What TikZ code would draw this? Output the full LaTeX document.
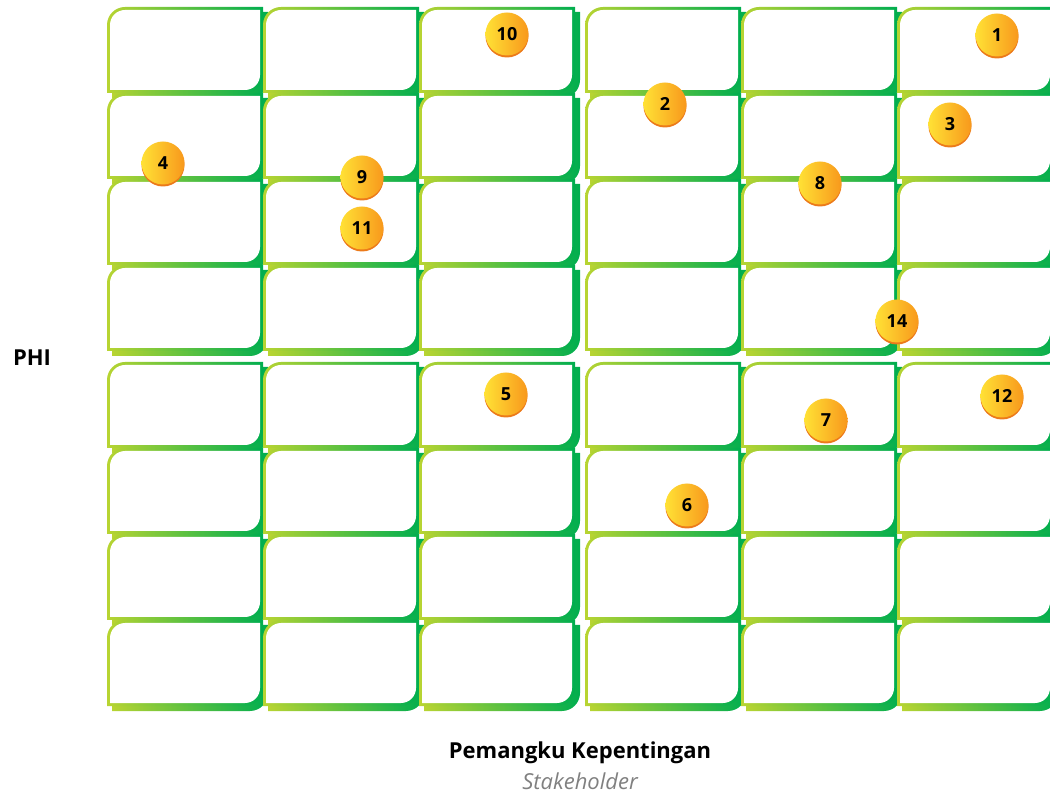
\documentclass[tikz,border=0pt]{standalone}
\usepackage{fontspec}
\setmainfont{Open Sans}
\usepackage{tikz}
\usetikzlibrary{shadows, positioning}
\definecolor{celllime}{HTML}{B8D432}
\definecolor{cellgreen}{HTML}{00AE4F}
\definecolor{dotyellow}{HTML}{FFE135}
\definecolor{dotorange}{HTML}{F8981C}
\definecolor{dotrim}{HTML}{EC7A1A}
\definecolor{subgray}{HTML}{808080}
\tikzset{
  cellshade/.style={left color=celllime, right color=cellgreen},
  dot/.style={circle, minimum size=43pt, inner sep=0pt,
              left color=dotyellow, right color=dotorange,
              font=\fontsize{18}{18}\selectfont\bfseries, text=black,
              drop shadow={shadow xshift=0pt, shadow yshift=-2pt, fill=dotrim, opacity=1}},
  axislabel/.style={font=\fontsize{22}{24}\selectfont\bfseries},
  sublabel/.style={font=\fontsize{22}{24}\selectfont\itshape, text=subgray, inner sep=1pt},
}
% one grid cell: left x, top y, width, height, corner radius
\newcommand{\cellshape}[5]{(#1,#2-#4) -- (#1,#2-#5)
  arc[start angle=180, end angle=90, radius=#5] -- (#1+#3,#2)
  -- (#1+#3,#2-#4+#5) arc[start angle=0, end angle=-90, radius=#5] -- cycle}

\begin{document}
\begin{tikzpicture}[x=1pt, y=1pt]
  \useasboundingbox (0,0) rectangle (1050,796);
  \clip (0,0) rectangle (1050,796);

  %% -- grid of cells (8 rows x 6 columns) --
  \foreach \ry in {7,93,179,265,362,448,534,620}{
    \foreach \cx in {107,263,419,585,741,897}{
      \pgfmathsetmacro{\celltop}{796-\ry}
      \shade[cellshade, xshift=5pt, yshift=-5pt] \cellshape{\cx}{\celltop}{156}{86}{18};
      \shade[cellshade] \cellshape{\cx}{\celltop}{156}{86}{18};
      \fill[white] \cellshape{\cx+3}{\celltop-3}{150}{80}{15};
    }
  }

  %% -- numbered markers --
  \foreach \num/\px/\py in {1/997/35, 2/665/104, 3/950/124, 4/163/163,
                            5/506/394, 6/687/505, 7/826/420, 8/820/183,
                            9/362/177, 10/507/34, 11/362/228, 12/1002/396,
                            14/897/321}
    \node[dot] (dot\num) at (\px,796-\py) {\num};

  %% -- axis labels --
  \node[axislabel] (phi) at (32,796-358) {PHI};
  \node[axislabel] (xtitle) at (580,796-753) {Pemangku Kepentingan};
  \node[sublabel] (xsub) at (580,796-781) {Stakeholder};
\end{tikzpicture}
\end{document}
